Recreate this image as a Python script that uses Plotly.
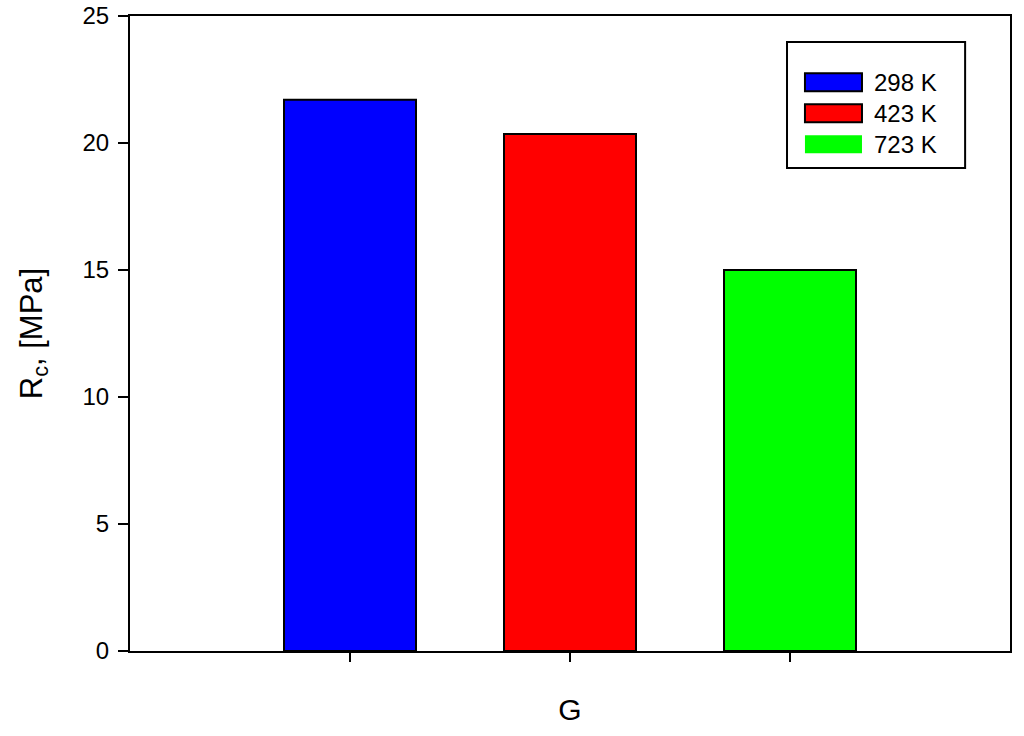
import plotly.graph_objects as go

series = ["298 K", "423 K", "723 K"]
positions = [1, 2, 3]
values = [21.7, 20.35, 15.0]
colors = ["#0000FF", "#FF0000", "#00FF00"]
legend_outline = [True, True, False]
y_ticks = [0, 5, 10, 15, 20, 25]

FONT = "Liberation Sans, Arial, sans-serif"

fig = go.Figure()
for name, xpos, val, col in zip(series, positions, values, colors):
    fig.add_trace(go.Bar(
        x=[xpos], y=[val], name=name, width=0.6,
        marker=dict(color=col, line=dict(color="black", width=2)),
        showlegend=False,
    ))

# custom legend (wide swatches as in the original)
L, R, T, B = 0.7466, 0.949, 0.959, 0.7606
fig.add_shape(type="rect", xref="paper", yref="paper", x0=L, x1=R, y0=B, y1=T,
              line=dict(color="black", width=2), fillcolor="white", layer="above")
row_centers = [0.8957, 0.8468, 0.7980]
for name, col, outl, yc in zip(series, colors, legend_outline, row_centers):
    h = 0.0142
    fig.add_shape(type="rect", xref="paper", yref="paper", x0=0.7670, x1=0.8318,
                  y0=yc - h, y1=yc + h, fillcolor=col,
                  line=dict(color="black" if outl else col, width=2 if outl else 0),
                  layer="above")
    fig.add_annotation(xref="paper", yref="paper", x=0.843, y=yc, text=name,
                       showarrow=False, xanchor="left", yanchor="middle",
                       font=dict(family=FONT, size=24, color="black"))

fig.update_layout(
    width=1024, height=736,
    margin=dict(l=130, r=14, t=16, b=85),
    paper_bgcolor="white", plot_bgcolor="white",
    barmode="overlay",
    font=dict(family=FONT, color="black"),
)
fig.update_xaxes(
    range=[0, 4], tickvals=positions, showticklabels=False,
    ticks="outside", ticklen=9, tickwidth=2, tickcolor="black",
    showline=True, linecolor="black", linewidth=2, mirror=True,
    showgrid=False, zeroline=False, automargin=False,
    title=dict(text="G", font=dict(family=FONT, size=30), standoff=38),
)
fig.update_yaxes(
    range=[0, 25], tickvals=y_ticks,
    ticks="outside", ticklen=10, tickwidth=2, tickcolor="black",
    tickfont=dict(family=FONT, size=24), ticklabelstandoff=4,
    showline=True, linecolor="black", linewidth=2, mirror=True,
    showgrid=False, zeroline=False, automargin=False,
    title=dict(text="R<sub>c</sub>, [MPa]", font=dict(family=FONT, size=31), standoff=31),
)

fig.write_html("out.html", config={"displayModeBar": False},
               post_script="document.body.style.margin='0';")
